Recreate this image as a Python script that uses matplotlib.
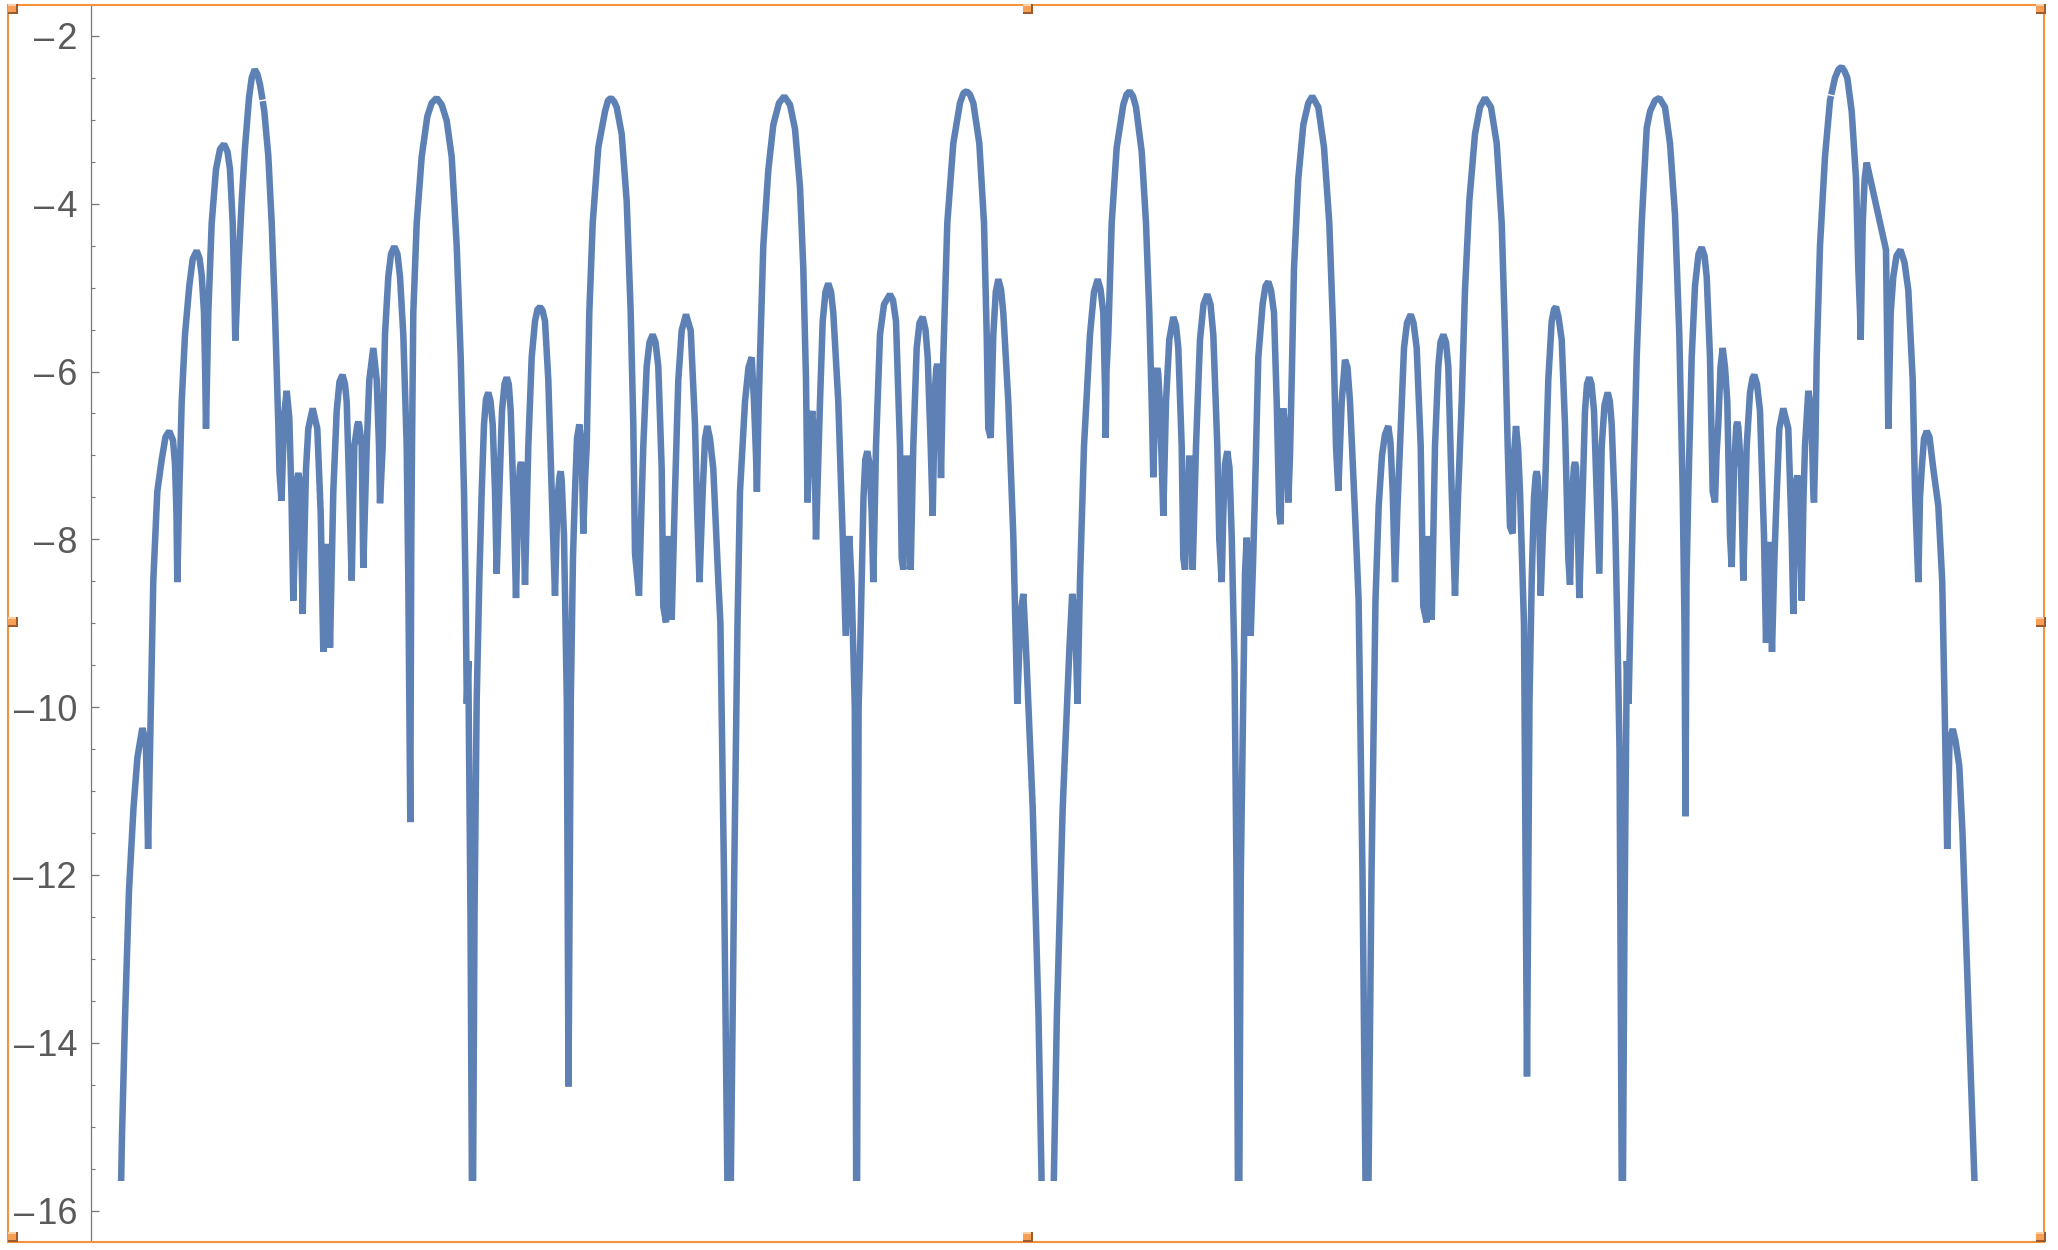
import matplotlib.pyplot as plt
from matplotlib.patches import Rectangle
from matplotlib.ticker import MultipleLocator, FuncFormatter

NAN = float('nan')

# Sampled curve, read off the reference lobe by lobe (x: position along the
# sweep, y: log10 magnitude). Points below the plot range get clipped;
# NaN marks the two places where the drawn curve has a break.
x_vals = [
    0.006, 0.020, 0.051, 0.090, 0.135, 0.174, 0.223, 0.258, 0.281,
    0.310, 0.333, 0.373, 0.417, 0.455, 0.493, 0.530, 0.550, 0.565, 0.573,
    0.593, 0.617, 0.650, 0.693, 0.727, 0.767, 0.795, 0.817, 0.840, 0.853, 0.860,
    0.883, 0.917, 0.960, 1.000, 1.040, 1.075, 1.100, 1.127, 1.143, 1.153,
    1.183, 1.217, 1.250, 1.290, 1.317, 1.347, 1.375, 1.400, 1.425, NAN, 1.4275, 1.443, 1.483, 1.517, 1.550, 1.583, 1.595, 1.615,
    1.643, 1.667, 1.693, 1.715, 1.733,
    1.760, 1.773, 1.783, 1.793, 1.805, 1.827,
    1.860, 1.883, 1.927, 1.973, 2.007, 2.033,
    2.063, 2.073, 2.083, 2.100,
    2.133, 2.167, 2.195, 2.225, 2.250, 2.267, 2.293, 2.317,
    2.343, 2.373, 2.383, 2.393, 2.417, 2.433,
    2.467, 2.493, 2.533, 2.567, 2.590, 2.600,
    2.627, 2.650, 2.683, 2.710, 2.743, 2.775, 2.800, 2.833, 2.867, 2.883, 2.903,
    2.913, 2.920, 2.933, 2.967, 3.017, 3.073, 3.117, 3.167, 3.217, 3.267, 3.317, 3.367, 3.407, 3.440, 3.455,
    3.468, 3.483, 3.505, 3.525, 3.545,
    3.567, 3.593, 3.617, 3.640, 3.660, 3.683, 3.705, 3.727, 3.750, 3.767,
    3.793, 3.820, 3.845, 3.867, 3.888, 3.907, 3.940, 3.960,
    3.985, 4.000, 4.010, 4.020, 4.030, 4.050,
    4.083, 4.117, 4.150, 4.175, 4.200, 4.225, 4.250, 4.283, 4.317, 4.350,
    4.375, 4.397, 4.407, 4.417, 4.440, 4.468, 4.485,
    4.508, 4.530, 4.550, 4.570, 4.593, 4.617, 4.633,
    4.650, 4.667, 4.693, 4.727, 4.783, 4.850, 4.880, 4.910, 4.940, 4.967, 5.017, 5.067, 5.107, 5.133, 5.150, 5.190,
    5.215, 5.233, 5.267, 5.295, 5.327, 5.355, 5.383, 5.417, 5.433, 5.460, 5.483, 5.517,
    5.550, 5.583, 5.617, 5.660, 5.707, 5.750, 5.770, 5.795,
    5.827, 5.850, 5.873, 5.900, 5.933, 5.983, 6.004, 6.040, 6.091, 6.142, 6.175,
    6.200, 6.250, 6.285, 6.317, 6.340, 6.360, 6.369,
    6.385, 6.400, 6.433, 6.483, 6.533, 6.590, 6.643, 6.700, 6.750, 6.800, 6.833, 6.860, 6.875, 6.900, 6.923, 6.945, 6.960,
    6.985, 7.000, 7.027, 7.055, 7.083, 7.110, 7.133, 7.183, 7.227, 7.257, 7.293, 7.315, 7.348, 7.366, 7.386, 7.400,
    7.417, 7.435, 7.453, 7.473, 7.495, 7.517, 7.533,
    7.560, 7.600, 7.640, 7.700, 7.730, 7.760, 7.800, 7.817, 7.833, 7.867, 7.907,
    7.933, 7.967, 7.995, 8.027, 8.055, 8.077, 8.107, 8.127,
    8.150, 8.163, 8.173, 8.183, 8.195, 8.210,
    8.233, 8.273, 8.333, 8.400, 8.435, 8.467, 8.500, 8.533, 8.593, 8.640, 8.667, 8.683, 8.707,
    8.733, 8.758, 8.783, 8.810, 8.833, 8.883, 8.933, 8.973,
    9.005, 9.033, 9.060, 9.127, 9.185, 9.216, 9.277, 9.338, 9.369, 9.427, 9.494, 9.522, 9.550, 9.575,
    9.600, 9.640, 9.700, 9.740, 9.777, 9.805, 9.833, 9.850, 9.857,
    9.865, 9.883, 9.917, 9.967, 10.033, 10.065, 10.097, 10.130, 10.160, 10.217, 10.260, 10.293, 10.317, 10.333,
    10.355, 10.363, 10.373, 10.383, 10.395, 10.415, 10.433,
    10.460, 10.493, 10.533, 10.560, 10.583, 10.617, 10.633, 10.650, 10.693, 10.727,
    10.760, 10.800, 10.835, 10.873, 10.905, 10.933, 10.973, 10.993, 11.017,
    11.033, 11.050, 11.073, 11.095, 11.117, 11.145, 11.165, 11.186, 11.208, 11.233, 11.250, 11.267, 11.285, 11.307,
    11.330, 11.350, 11.383, 11.427, 11.455, 11.483, 11.510, 11.540, 11.567, 11.593, 11.607, 11.615, 11.633, 11.655, 11.683,
    11.700, 11.717, 11.740, 11.783, 11.833, 11.883, 11.923, 11.983, 12.040, 12.093, 12.133, 12.160, 12.183,
    12.200, 12.217, 12.250, 12.275, 12.300, 12.350, 12.386, 12.425, 12.470, 12.515, 12.555,
    12.587, 12.620, 12.650, 12.683, 12.705, 12.727, 12.750,
    12.775, 12.800, 12.840, 12.870, 12.907, 12.935, 12.967, 13.007, 13.033, 13.067, 13.083, 13.117,
    13.150, 13.183, 13.205, 13.233, 13.260, 13.283, 13.317, 13.350,
    13.380, 13.417, 13.450, 13.493, 13.550, 13.600, 13.650, 13.710, 13.767, 13.817, 13.850, 13.877, 13.900, 13.927,
    13.940, 13.960, 13.980, 14.000, 14.040, 14.070, 14.095, 14.117,
    14.140, 14.157, 14.167, 14.177, 14.190, 14.207,
    14.230, 14.250, 14.283, 14.317, 14.340, 14.360, 14.385, 14.417, 14.450, 14.483, 14.500,
    14.525, 14.540, 14.550, 14.560, 14.572, 14.593,
    14.627, 14.650, 14.670, 14.693, 14.715, 14.740, 14.773, 14.793,
    14.817, 14.845, 14.877, 14.898, 14.917, 14.950, 14.973, 14.995, 15.023, 15.045, 15.068, 15.086,
    15.103, 15.133, 15.167, 15.217, 15.267, 15.300, 15.350, 15.393, 15.450, 15.500, 15.550, 15.593, 15.627, 15.645, 15.655,
    15.665, 15.683, 15.717, 15.750, 15.785, 15.817, 15.845, 15.867, 15.900, 15.927, 15.950,
    15.965, 15.983, 16.005, 16.027, 16.050, 16.073, 16.100, 16.117,
    16.140, 16.163, 16.173, 16.183, 16.210, 16.233,
    16.267, 16.300, 16.325, 16.343, 16.370, 16.400, 16.440, 16.460, 16.493, 16.520,
    16.545, 16.560, 16.593, 16.633, 16.683, 16.717, 16.733,
    16.755, 16.763, 16.773, 16.783, 16.795, 16.817,
    16.835, 16.850, 16.883, 16.905, 16.917, 16.933, 16.940,
    16.955, 16.967, 17.000, 17.050, 17.100, 17.110, NAN, 17.113, 17.150, 17.185, 17.217, 17.245, 17.273, 17.317, 17.360, 17.383, 17.400, 17.407,
    17.427, 17.447, 17.467, 17.660, 17.683,
    17.707, 17.733, 17.765, 17.805, 17.845, 17.883, 17.927, 17.950, 17.983,
    18.000, 18.017, 18.040, 18.067, 18.095, 18.133, 18.183, 18.222, 18.245, 18.272,
    18.295, 18.328, 18.355, 18.393, 18.425, 18.458, 18.501, 18.545, 18.555,
]

y_vals = [
    -16.0, -15.1, -13.67, -12.18, -11.2, -10.6, -10.25, -10.4, -11.69,
    -9.91, -8.49, -7.43, -7.05, -6.78, -6.71, -6.82, -7.1, -7.7, -8.51,
    -7.43, -6.36, -5.56, -4.98, -4.66, -4.56, -4.65, -4.85, -5.3, -6.09, -6.68,
    -5.30, -4.23, -3.59, -3.35, -3.29, -3.38, -3.59, -4.23, -5.03, -5.63,
    -4.77, -3.97, -3.33, -2.74, -2.50, -2.40, -2.46, -2.58, -2.76, NAN, -2.778, -2.90, -3.43, -4.23, -5.30, -6.63, -7.2, -7.54,
    -6.5, -6.23, -6.55, -7.5, -8.73,
    -7.6, -7.27, -7.21, -7.27, -7.6, -8.89,
    -7.16, -6.68, -6.44, -6.68, -7.69, -9.34,
    -8.12, -8.06, -8.12, -9.29,
    -7.43, -6.47, -6.12, -6.04, -6.15, -6.36, -7.43, -8.49,
    -6.89, -6.64, -6.6, -6.64, -6.89, -8.34,
    -6.89, -6.1, -5.72, -6.1, -6.89, -7.57,
    -6.89, -5.56, -4.87, -4.6, -4.51, -4.6, -4.87, -5.56, -6.89, -8.49, -11.37,
    -8.0, -6.89, -5.30, -4.23, -3.44, -2.96, -2.80, -2.74, -2.82, -3.01, -3.44, -4.5, -5.83, -7.43, -8.5,
    -9.96, -9.45, -12.5, -17.0, -12.5,
    -9.91, -8.49, -7.43, -6.63, -6.33, -6.25, -6.35, -6.63, -7.43, -8.41,
    -7.43, -6.47, -6.15, -6.07, -6.15, -6.47, -7.69, -8.7,
    -7.4, -7.13, -7.08, -7.13, -7.4, -8.54,
    -6.89, -5.83, -5.4, -5.26, -5.23, -5.27, -5.4, -6.1, -7.43, -8.67,
    -7.5, -7.24, -7.19, -7.3, -7.96, -9.91, -14.52,
    -9.91, -8.2, -7.43, -6.8, -6.63, -6.89, -7.93,
    -7.3, -6.89, -5.30, -4.23, -3.33, -2.9, -2.77, -2.74, -2.78, -2.85, -3.17, -3.97, -5.30, -6.63, -8.17, -8.67,
    -7.6, -6.89, -5.94, -5.65, -5.56, -5.65, -5.94, -7.16, -8.8, -8.99, -7.96, -8.96,
    -7.43, -6.1, -5.51, -5.32, -5.51, -6.63, -7.6, -8.51,
    -7.43, -6.8, -6.65, -6.8, -7.16, -8.49, -9.0, -12.0, -17.5, -12.0, -9.0,
    -7.43, -6.36, -5.95, -5.83, -6.36, -7.0, -7.43,
    -6.5, -5.83, -4.5, -3.6, -3.06, -2.8, -2.72, -2.82, -3.11, -3.8, -4.77, -6.1, -7.56, -6.7, -6.47, -6.9, -8.0,
    -7.0, -6.36, -5.4, -5.05, -4.95, -5.05, -5.3, -6.36, -7.96, -9.15, -7.96, -8.5, -10.0, -17.5, -10.0, -9.4,
    -8.49, -7.5, -7.05, -6.95, -7.1, -7.69, -8.51,
    -6.89, -5.56, -5.2, -5.08, -5.15, -5.4, -6.89, -8.22, -8.36, -7.0, -8.36,
    -6.89, -5.72, -5.42, -5.35, -5.5, -5.83, -6.89, -7.72,
    -6.2, -5.96, -5.91, -5.98, -6.3, -7.27,
    -5.83, -4.23, -3.28, -2.8, -2.68, -2.66, -2.7, -2.8, -3.28, -4.23, -5.56, -6.68, -6.79,
    -5.56, -5.05, -4.9, -5.02, -5.3, -6.36, -7.96, -9.96,
    -8.9, -8.65, -9.3, -11.2, -13.67, -15.65, -18.5, -15.65, -13.67, -11.2, -9.3, -8.65, -8.9, -9.96,
    -8.49, -6.89, -5.56, -5.05, -4.9, -5.02, -5.3, -6.2, -6.79,
    -6.0, -5.56, -4.23, -3.33, -2.82, -2.7, -2.66, -2.72, -2.85, -3.38, -4.23, -5.30, -6.36, -7.26,
    -6.2, -6.01, -5.96, -6.03, -6.3, -7.0, -7.72,
    -6.36, -5.62, -5.35, -5.45, -5.72, -6.89, -8.22, -8.36, -7.0, -8.36,
    -6.89, -5.62, -5.2, -5.08, -5.2, -5.56, -6.89, -8.0, -8.51,
    -7.69, -7.1, -6.95, -7.15, -7.96, -9.5, -12.0, -17.5, -12.0, -9.91, -8.4, -7.98, -8.4, -9.15,
    -8.3, -7.43, -5.83, -5.19, -4.98, -4.93, -5.03, -5.30, -6.36, -7.69, -7.82, -7.0, -6.44, -6.7, -7.56,
    -7.0, -6.1, -4.77, -3.70, -3.06, -2.8, -2.72, -2.85, -3.33, -4.23, -5.56, -6.89, -7.42,
    -6.9, -6.36, -5.86, -5.95, -6.36, -7.69, -8.72, -12.0, -17.5, -12.0, -8.72,
    -7.6, -7.0, -6.75, -6.65, -6.85, -7.43, -8.51,
    -7.6, -6.89, -5.72, -5.42, -5.32, -5.42, -5.72, -6.89, -8.8, -8.99, -7.96, -8.96,
    -6.89, -5.94, -5.65, -5.56, -5.65, -5.94, -7.43, -8.67,
    -7.5, -6.36, -5.03, -3.97, -3.17, -2.85, -2.74, -2.85, -3.28, -4.23, -5.56, -6.89, -7.85, -7.93,
    -7.0, -6.65, -6.9, -7.43, -9.02, -14.4, -9.91, -8.49,
    -7.5, -7.24, -7.19, -7.26, -7.6, -8.67,
    -7.9, -7.43, -6.1, -5.4, -5.26, -5.23, -5.35, -5.62, -6.63, -8.22, -8.54,
    -7.4, -7.13, -7.08, -7.14, -7.5, -8.7,
    -7.43, -6.47, -6.15, -6.07, -6.15, -6.47, -7.69, -8.41,
    -6.89, -6.4, -6.25, -6.35, -6.63, -7.69, -9.02, -10.5, -17.0, -12.5, -9.45, -9.96,
    -9.0, -7.43, -5.83, -4.23, -3.10, -2.9, -2.77, -2.74, -2.85, -3.28, -4.13, -5.56, -7.43, -9.0, -11.3,
    -8.5, -7.43, -5.83, -4.98, -4.6, -4.52, -4.62, -4.87, -5.83, -7.43, -7.56,
    -7.0, -6.63, -5.95, -5.72, -5.95, -6.36, -7.96, -8.33,
    -7.16, -6.65, -6.6, -6.66, -7.16, -8.49,
    -6.89, -6.25, -6.08, -6.04, -6.15, -6.47, -7.96, -9.23, -8.03, -9.34,
    -8.2, -7.69, -6.68, -6.44, -6.68, -7.96, -8.89,
    -7.6, -7.3, -7.24, -7.3, -7.6, -8.73,
    -7.5, -6.89, -6.23, -6.4, -6.63, -7.43, -7.56,
    -6.8, -5.83, -4.5, -3.44, -2.77, -2.716, NAN, -2.70, -2.5, -2.4, -2.37, -2.42, -2.5, -2.9, -3.7, -4.77, -5.3, -5.62,
    -4.23, -3.7, -3.51, -4.55, -6.68,
    -5.30, -4.87, -4.62, -4.55, -4.7, -5.03, -6.10, -7.43, -8.51,
    -7.5, -7.16, -6.8, -6.71, -6.78, -7.16, -7.6, -8.49, -9.91, -11.69,
    -10.4, -10.26, -10.4, -10.7, -11.5, -12.68, -14.16, -15.65, -16.0,
]

y_major = [-16, -14, -12, -10, -8, -6, -4, -2]

plt.rcParams['font.family'] = ['Liberation Sans', 'DejaVu Sans']

W, H = 2058, 1250
fig = plt.figure(figsize=(W / 100, H / 100), dpi=100, facecolor='white')

# plot area: y axis line at x=91px, frame from y=4px to y=1240px
ax = fig.add_axes([91 / W, 10 / H, (2044 - 91) / W, 1236 / H])
ax.set_xlim(-0.29, 19.24)
ax.set_ylim(-16.35, -1.62)

line, = ax.plot(x_vals, y_vals, color='#5E81B5', linewidth=4.7,
                solid_capstyle='butt', solid_joinstyle='bevel')
# Mathematica cuts the curve at the bottom of its plot range
clip = Rectangle((-1, -15.65), 22, 20, transform=ax.transData)
line.set_clip_path(clip)

for side in ['top', 'right', 'bottom']:
    ax.spines[side].set_visible(False)
ax.spines['left'].set_color('#777777')
ax.spines['left'].set_linewidth(0.9)

ax.set_xticks([])
ax.set_yticks(y_major)
ax.yaxis.set_major_formatter(FuncFormatter(lambda v, pos: '\u2013\u200a%d' % abs(v)))
ax.yaxis.set_minor_locator(MultipleLocator(0.5))
ax.tick_params(axis='y', which='major', direction='in', length=5.6, width=0.9,
               color='#777777', labelcolor='#5a5a5a', labelsize=26, pad=10)
ax.tick_params(axis='y', which='minor', direction='in', length=3.1, width=0.8,
               color='#777777')

# notebook selection frame with its orange handles
ov = fig.add_axes([0, 0, 1, 1], zorder=5)
ov.set_xlim(0, W)
ov.set_ylim(H, 0)
ov.axis('off')
ov.patch.set_alpha(0)
ov.add_patch(Rectangle((8, 4.5), 2036, 1237, fill=False, ec='#F5923E', lw=1.5))
for hx in [8, 1023, 2036]:
    for hy in [4, 617, 1232]:
        if hx == 1023 and hy == 617:
            continue
        ov.add_patch(Rectangle((hx, hy), 10, 10, fc='#9C5B2E', ec='none'))
        ov.add_patch(Rectangle((hx, hy), 7.5, 7.5, fc='#F7A055', ec='none'))
        ov.add_patch(Rectangle((hx, hy), 7.5, 2, fc='#FCD0A6', ec='none'))

fig.savefig('out.png', dpi=100)
